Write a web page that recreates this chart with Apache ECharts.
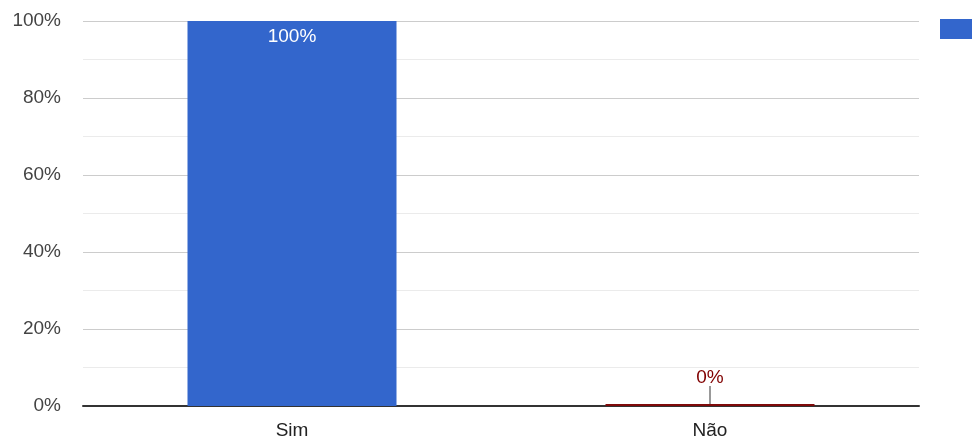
<!DOCTYPE html>
<html>
<head>
<meta charset="utf-8">
<script src="https://cdn.jsdelivr.net/npm/echarts@6/dist/echarts.min.js"></script>
<style>
  html, body { margin: 0; padding: 0; background: #fff; }
  #chart { width: 972px; height: 441px; }
</style>
</head>
<body>
<div id="chart"></div>
<script>
// categories and values (percent)
var categories = ['Sim', 'Não'];
var values = [100, 0];
var barColors = ['#3366cc', '#7f0a0a'];
var labelColors = ['#ffffff', '#800000'];

var chart = echarts.init(document.getElementById('chart'));

var data = values.map(function (v, i) {
  var zero = v === 0;
  if (!zero) {
    return {
      value: v,
      itemStyle: { color: barColors[i] },
      label: { position: 'insideTop', distance: 6, color: labelColors[i] }
    };
  }
  // a zero bar gets its label lifted above with a small leader line
  return {
    value: v,
    itemStyle: { color: barColors[i] },
    label: {
      position: 'top',
      distance: 0,
      formatter: '{v|{c}%}\n{l|}',
      rich: {
        v: { color: labelColors[i], fontSize: 19, lineHeight: 16, align: 'center' },
        l: { width: 2, height: 18, backgroundColor: '#999', align: 'center' }
      }
    }
  };
});

chart.setOption({
  animation: false,
  textStyle: { fontFamily: 'Liberation Sans, Arial, sans-serif' },
  grid: { left: 83, right: 53, top: 21, bottom: 35 },
  legend: {
    left: 940,
    top: 19,
    padding: 0,
    icon: 'rect',
    itemWidth: 32,
    itemHeight: 20,
    formatter: function () { return ''; },
    data: ['Respostas']
  },
  xAxis: {
    type: 'category',
    data: categories,
    axisTick: { show: false },
    axisLine: { lineStyle: { color: '#333', width: 2 } },
    axisLabel: { color: '#222', fontSize: 19, margin: 15 }
  },
  yAxis: {
    type: 'value',
    min: 0,
    max: 100,
    interval: 20,
    axisLine: { show: false },
    axisTick: { show: false },
    axisLabel: { color: '#444', fontSize: 19, margin: 22, padding: [4, 0, 0, 0], formatter: '{value}%' },
    splitLine: { lineStyle: { color: '#cccccc', width: 1 } },
    minorTick: { show: false, splitNumber: 2 },
    minorSplitLine: { show: true, lineStyle: { color: '#ebebeb', width: 1 } }
  },
  series: [{
    name: 'Respostas',
    type: 'bar',
    barWidth: '50%',
    barMinHeight: 2,
    itemStyle: { color: '#3366cc' },
    label: {
      show: true,
      fontSize: 19,
      formatter: '{c}%'
    },
    data: data
  }]
});
</script>
</body>
</html>
